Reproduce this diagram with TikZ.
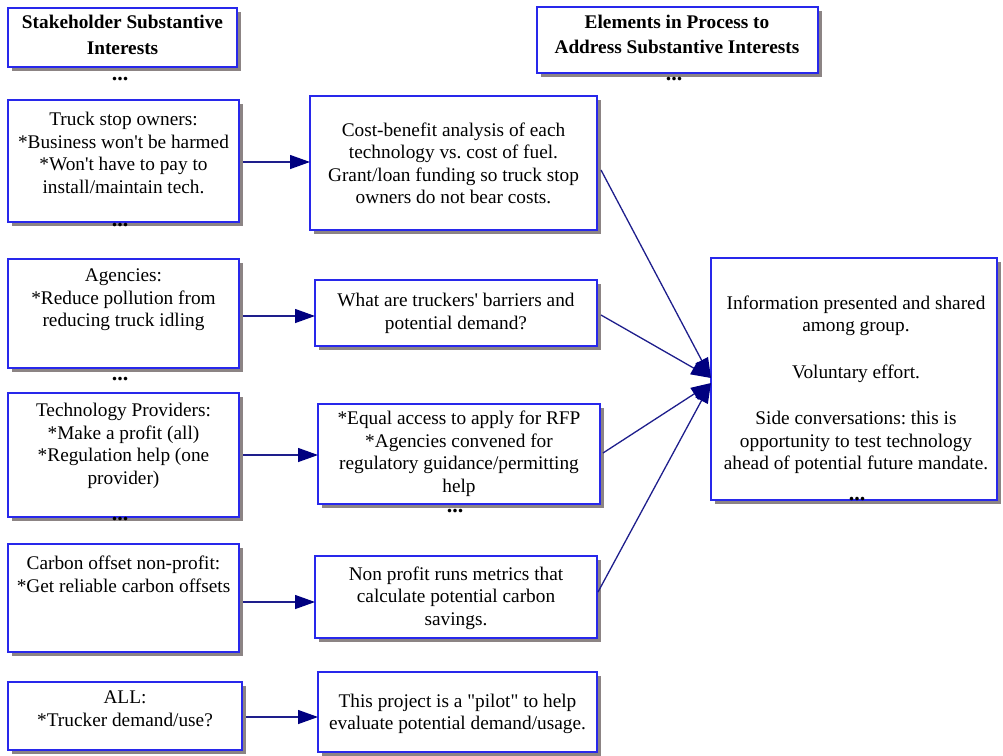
\documentclass[tikz,border=0pt]{standalone}
\usepackage{fontspec}
% plain straight quotes, as typed
\setmainfont{Liberation Serif}[Ligatures=TeXOff]
\usetikzlibrary{arrows.meta,shadows}
\definecolor{boxblue}{RGB}{40,40,235}
\definecolor{shadowgray}{RGB}{140,132,132}
\definecolor{linknavy}{RGB}{30,30,140}
\definecolor{headnavy}{RGB}{0,0,128}
\frenchspacing
\begin{document}
\begin{tikzpicture}[x=1pt,y=-1pt,
  every node/.style={inner sep=0pt,outer sep=0pt},
  box/.style={draw=boxblue,line width=1.5pt,fill=white,rectangle,
    general shadow={fill=shadowgray,shadow xshift=4pt,shadow yshift=-4pt}},
  txt/.style={align=center,font=\fontsize{19.3}{22.5}\selectfont},
  head/.style={align=center,font=\fontsize{19.3}{25.5}\selectfont\bfseries},
  dots/.style={font=\fontsize{22}{22}\selectfont\bfseries},
  conn/.style={draw=linknavy,line width=1.3pt,
    -{Triangle[length=20pt,width=14pt,color=headnavy]}}]
\useasboundingbox (0,0) rectangle (1003,755);

% column headings
\node[box,minimum width=229pt,minimum height=59pt] (hl) at (122.5,37.5) {};
\node[head] (hlt) at (122.5,35) {Stakeholder Substantive\\Interests};
\node[box,minimum width=281pt,minimum height=66pt] (hr) at (677.5,40) {};
\node[head] (hrt) at (677,34.5) {Elements in Process to\\Address Substantive Interests};

% stakeholder interests
\node[box,minimum width=231pt,minimum height=122pt] (l1) at (123.5,161) {};
\node[txt] (l1t) at (123.5,153) {Truck stop owners:\\*Business won't be harmed\\*Won't have to pay to\\install/maintain tech.};
\node[box,minimum width=231pt,minimum height=109pt] (l2) at (123.5,313.5) {};
\node[txt] (l2t) at (123.5,300) {Agencies:\\*Reduce pollution from\\reducing truck idling};
\node[box,minimum width=231pt,minimum height=124pt] (l3) at (123.5,455) {};
\node[txt] (l3t) at (123.5,446) {Technology Providers:\\*Make a profit (all)\\*Regulation help (one\\provider)};
\node[box,minimum width=231pt,minimum height=108pt] (l4) at (123.5,598) {};
\node[txt] (l4t) at (123.5,574.5) {Carbon offset non-profit:\\*Get reliable carbon offsets};
\node[box,minimum width=234pt,minimum height=68pt] (l5) at (125,716) {};
\node[txt] (l5t) at (125,709) {ALL:\\*Trucker demand/use?};

% process elements
\node[box,minimum width=287pt,minimum height=134pt] (m1) at (453.5,163) {};
\node[txt] (m1t) at (453.5,163.5) {Cost-benefit analysis of each\\technology vs. cost of fuel.\\Grant/loan funding so truck stop\\owners do not bear costs.};
\node[box,minimum width=282pt,minimum height=66pt] (m2) at (456,313) {};
\node[txt] (m2t) at (456,313.5) {What are truckers' barriers and\\potential demand?};
\node[box,minimum width=282pt,minimum height=100pt] (m3) at (459,454) {};
\node[txt] (m3t) at (459,454) {*Equal access to apply for RFP\\*Agencies convened for\\regulatory guidance/permitting\\help};
\node[box,minimum width=282pt,minimum height=82pt] (m4) at (456,597) {};
\node[txt] (m4t) at (456,598) {Non profit runs metrics that\\calculate potential carbon\\savings.};
\node[box,minimum width=279pt,minimum height=80pt] (m5) at (457.5,712) {};
\node[txt] (m5t) at (457.5,714) {This project is a "pilot" to help\\evaluate potential demand/usage.};

% shared outcome
\node[box,minimum width=286pt,minimum height=242pt] (r) at (854,379) {};
\node[txt] (rt) at (856,385) {Information presented and shared\\among group.\\[24pt]Voluntary effort.\\[24pt]Side conversations: this is\\opportunity to test technology\\ahead of potential future mandate.};

% continuation marks
\node[dots] (d1) at (120,79) {...};
\node[dots] (d2) at (674,79) {...};
\node[dots] (d3) at (120,225) {...};
\node[dots] (d4) at (120,379) {...};
\node[dots] (d5) at (120,519) {...};
\node[dots] (d6) at (455,511) {...};
\node[dots] (d7) at (857,499) {...};

% interests to process elements
\draw[conn] ([xshift=4pt,yshift=-1pt]l1.east) -- ([yshift=-1pt]l1.east -| m1.west);
\draw[conn] ([xshift=4pt,yshift=-2.5pt]l2.east) -- ([yshift=-2.5pt]l2.east -| m2.west);
\draw[conn] ([xshift=4pt]l3.east) -- (l3.east -| m3.west);
\draw[conn] ([xshift=4pt,yshift=-4pt]l4.east) -- ([yshift=-4pt]l4.east -| m4.west);
\draw[conn] ([xshift=4pt,yshift=-1pt]l5.east) -- ([yshift=-1pt]l5.east -| m5.west);

% process elements to shared outcome
\draw[conn] ([xshift=4pt,yshift=-7pt]m1.east) -- ([yshift=1pt]r.west);
\draw[conn] ([xshift=4pt,yshift=-2pt]m2.east) -- ([yshift=1pt]r.west);
\draw[conn] ([xshift=3pt,yshift=1pt]m3.east) -- ([yshift=-4pt]r.west);
\draw[conn] ([xshift=1pt,yshift=5pt]m4.east) -- ([yshift=-4pt]r.west);
\end{tikzpicture}
\end{document}
